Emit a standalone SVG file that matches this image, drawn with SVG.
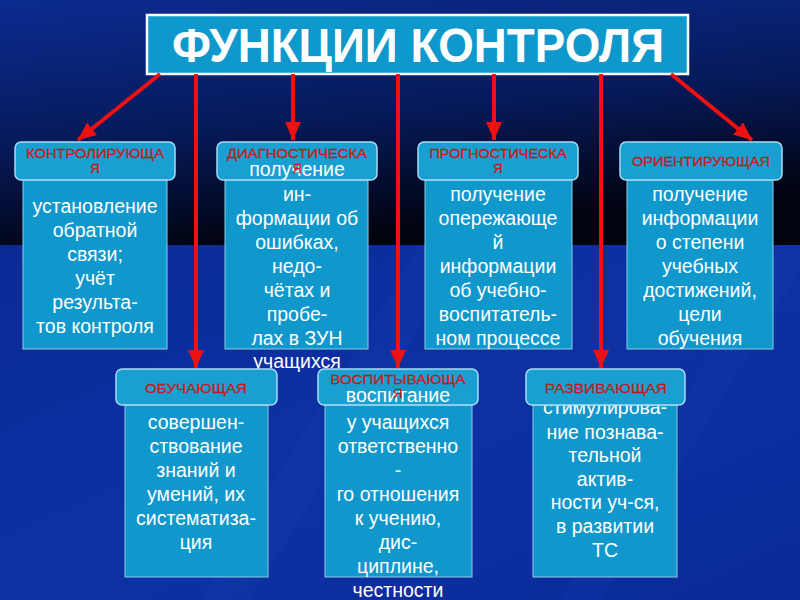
<svg xmlns="http://www.w3.org/2000/svg" width="800" height="600" viewBox="0 0 800 600">
<defs>
<linearGradient id="topbg" x1="0" y1="0" x2="0.3" y2="1">
<stop offset="0" stop-color="#0b2b90"/>
<stop offset="0.55" stop-color="#061a5a"/>
<stop offset="1" stop-color="#01030f"/>
</linearGradient>
<linearGradient id="botbg" x1="0" y1="0" x2="1" y2="1">
<stop offset="0" stop-color="#0a2a96"/>
<stop offset="0.5" stop-color="#0d31a4"/>
<stop offset="1" stop-color="#0a2a98"/>
</linearGradient>
<marker id="ah" markerUnits="userSpaceOnUse" markerWidth="20" markerHeight="18" refX="18" refY="8" orient="auto">
<path d="M0,0 L18,8 L0,16 z" fill="#ee1111"/>
</marker>
<style>
.hdr{fill:#1a9fd2;stroke:#a8dcf2;stroke-width:1.5}
.body{fill:#1097cb;stroke:#8fcbe8;stroke-width:1}
.lbl{font-family:"Liberation Sans",Arial,sans-serif;font-size:13px;fill:#e8231c;text-anchor:middle;stroke:#a01010;stroke-width:0.3}
.txt{font-family:"Liberation Sans",Arial,sans-serif;font-size:19.5px;fill:#ffffff;text-anchor:middle}
.con line{stroke:#ee1111;stroke-width:4;marker-end:url(#ah)}
</style>
</defs>
<rect x="0" y="0" width="800" height="246" fill="url(#topbg)"/>
<rect x="0" y="245" width="800" height="355" fill="url(#botbg)"/>
<polygon points="200,600 420,245 470,245 250,600" fill="#2a4ac0" opacity="0.12"/>
<polygon points="560,600 780,245 800,245 800,270 600,600" fill="#2a4ac0" opacity="0.1"/>

<g id="title">
<rect x="147" y="15" width="541" height="59" fill="#0e98cc" stroke="#ffffff" stroke-width="2.5"/>
<text x="418" y="62" font-family="'Liberation Sans',Arial,sans-serif" font-size="48" font-weight="bold" fill="#ffffff" text-anchor="middle" textLength="492" lengthAdjust="spacingAndGlyphs">ФУНКЦИИ КОНТРОЛЯ</text>
</g>

<g class="con" id="connectors">
<line x1="160" y1="74" x2="78" y2="140"/>
<line x1="196" y1="74" x2="196" y2="368"/>
<line x1="293" y1="74" x2="293" y2="140"/>
<line x1="398" y1="74" x2="398" y2="368"/>
<line x1="494" y1="74" x2="494" y2="140"/>
<line x1="601" y1="74" x2="601" y2="368"/>
<line x1="671" y1="74" x2="752" y2="140"/>
</g>

<g id="kontrol">
<rect class="body" x="23" y="180" width="144" height="169"/>
<rect class="hdr" x="15" y="142" width="160" height="38" rx="6"/>
<text class="lbl" x="95" y="158" textLength="138" lengthAdjust="spacingAndGlyphs">КОНТРОЛИРУЮЩА</text>
<text class="lbl" x="95" y="173">Я</text>
<text class="txt" x="95" y="213">установление</text>
<text class="txt" x="95" y="237">обратной</text>
<text class="txt" x="95" y="261">связи;</text>
<text class="txt" x="95" y="285">учёт</text>
<text class="txt" x="95" y="309">результа-</text>
<text class="txt" x="95" y="333">тов контроля</text>
</g>

<g id="diagnost">
<rect class="body" x="225" y="180" width="143" height="169"/>
<rect class="hdr" x="217" y="142" width="160" height="38" rx="6"/>
<text class="txt" x="297" y="176">получение</text>
<text class="lbl" x="297" y="158" textLength="140" lengthAdjust="spacingAndGlyphs">ДИАГНОСТИЧЕСКА</text>
<text class="lbl" x="297" y="173">Я</text>
<text class="txt" x="297" y="201">ин-</text>
<text class="txt" x="297" y="225">формации об</text>
<text class="txt" x="297" y="249">ошибках,</text>
<text class="txt" x="297" y="273">недо-</text>
<text class="txt" x="297" y="297">чётах и</text>
<text class="txt" x="297" y="321">пробе-</text>
<text class="txt" x="297" y="345">лах в ЗУН</text>
<text class="txt" x="297" y="368">учащихся</text>
</g>

<g id="prognost">
<rect class="body" x="425" y="180" width="147" height="169"/>
<rect class="hdr" x="418" y="142" width="160" height="38" rx="6"/>
<text class="lbl" x="498" y="158" textLength="137" lengthAdjust="spacingAndGlyphs">ПРОГНОСТИЧЕСКА</text>
<text class="lbl" x="498" y="173">Я</text>
<text class="txt" x="498" y="201">получение</text>
<text class="txt" x="498" y="225">опережающе</text>
<text class="txt" x="498" y="249">й</text>
<text class="txt" x="498" y="273">информации</text>
<text class="txt" x="498" y="297">об учебно-</text>
<text class="txt" x="498" y="321">воспитатель-</text>
<text class="txt" x="498" y="345">ном процессе</text>
</g>

<g id="orient">
<rect class="body" x="627" y="180" width="146" height="169"/>
<rect class="hdr" x="620" y="142" width="162" height="38" rx="6"/>
<text class="lbl" x="701" y="166" textLength="138" lengthAdjust="spacingAndGlyphs">ОРИЕНТИРУЮЩАЯ</text>
<text class="txt" x="700" y="201">получение</text>
<text class="txt" x="700" y="225">информации</text>
<text class="txt" x="700" y="249">о степени</text>
<text class="txt" x="700" y="273">учебных</text>
<text class="txt" x="700" y="297">достижений,</text>
<text class="txt" x="700" y="321">цели</text>
<text class="txt" x="700" y="345">обучения</text>
</g>

<g id="obuch">
<rect class="body" x="125" y="405" width="143" height="172"/>
<rect class="hdr" x="116" y="369" width="161" height="36" rx="6"/>
<text class="lbl" x="196" y="393" textLength="102" lengthAdjust="spacingAndGlyphs">ОБУЧАЮЩАЯ</text>
<text class="txt" x="196" y="429">совершен-</text>
<text class="txt" x="196" y="453">ствование</text>
<text class="txt" x="196" y="477">знаний и</text>
<text class="txt" x="196" y="501">умений, их</text>
<text class="txt" x="196" y="525">систематиза-</text>
<text class="txt" x="196" y="549">ция</text>
</g>

<g id="vospit">
<rect class="body" x="325" y="405" width="147" height="172"/>
<rect class="hdr" x="318" y="369" width="160" height="36" rx="6"/>
<text class="txt" x="398" y="402">воспитание</text>
<text class="lbl" x="398" y="384" textLength="135" lengthAdjust="spacingAndGlyphs">ВОСПИТЫВАЮЩА</text>
<text class="lbl" x="398" y="398">Я</text>
<text class="txt" x="398" y="429">у учащихся</text>
<text class="txt" x="398" y="453">ответственно</text>
<text class="txt" x="398" y="477">-</text>
<text class="txt" x="398" y="501">го отношения</text>
<text class="txt" x="398" y="525">к учению,</text>
<text class="txt" x="398" y="549">дис-</text>
<text class="txt" x="398" y="573">циплине,</text>
<text class="txt" x="398" y="597">честности</text>
</g>

<g id="razvit">
<rect class="body" x="533" y="405" width="144" height="172"/>
<text class="txt" x="605" y="414">стимулирова-</text>
<rect class="hdr" x="526" y="369" width="159" height="36" rx="6"/>
<text class="lbl" x="606" y="393" textLength="122" lengthAdjust="spacingAndGlyphs">РАЗВИВАЮЩАЯ</text>
<text class="txt" x="605" y="439">ние познава-</text>
<text class="txt" x="605" y="462">тельной</text>
<text class="txt" x="605" y="486">актив-</text>
<text class="txt" x="605" y="509">ности  уч-ся,</text>
<text class="txt" x="605" y="533">в развитии</text>
<text class="txt" x="605" y="557">ТС</text>
</g>
</svg>
